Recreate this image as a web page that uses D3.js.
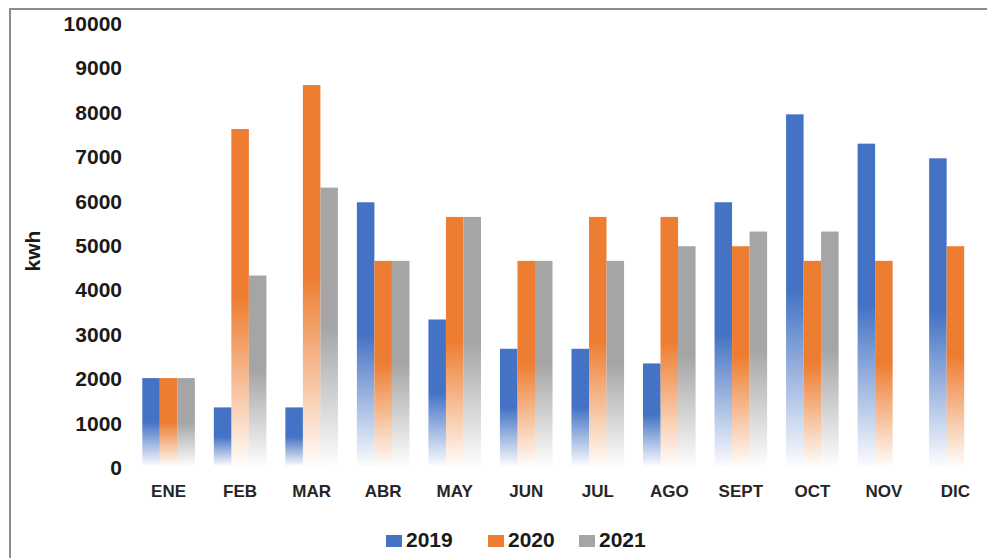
<!DOCTYPE html>
<html>
<head>
<meta charset="utf-8">
<script src="https://cdn.jsdelivr.net/npm/d3@7"></script>
<style>
  html, body { margin: 0; padding: 0; background: #fff; }
  svg { display: block; font-family: "Liberation Sans", Arial, sans-serif; }
</style>
</head>
<body>
<svg id="chart" width="987" height="558"></svg>
<script>
// Monthly energy use (kWh) per year
const months = ["ENE", "FEB", "MAR", "ABR", "MAY", "JUN", "JUL", "AGO", "SEPT", "OCT", "NOV", "DIC"];
const years = ["2019", "2020", "2021"];
const values2019 = [1980, 1320, 1320, 5940, 3300, 2640, 2640, 2310, 5940, 7920, 7260, 6930];
const values2020 = [1980, 7590, 8580, 4620, 5610, 4620, 5610, 5610, 4950, 4620, 4620, 4950];
const values2021 = [1980, 4290, 6270, 4620, 5610, 4620, 4620, 4950, 5280, 5280, null, null];
const yTicks = [0, 1000, 2000, 3000, 4000, 5000, 6000, 7000, 8000, 9000, 10000];
const colors = ["#4472C4", "#ED7D31", "#A5A5A5"];

const seriesValues = [values2019, values2020, values2021];

const svg = d3.select("#chart");

// chart frame
svg.append("rect")
  .attr("x", 10).attr("y", 9)
  .attr("width", 1000).attr("height", 600)
  .attr("fill", "none")
  .attr("stroke", "#8c8c8c")
  .attr("stroke-width", 2);

const x = d3.scaleBand().domain(months).range([133, 991]).paddingInner(0.265).paddingOuter(0.13);
const xs = d3.scaleBand().domain(years).range([0, x.bandwidth()]);
const y = d3.scaleLinear().domain([0, 10000]).range([466, 22]);

// gradient fills: solid on the upper half of each bar, fading to white at the base
const defs = svg.append("defs");
colors.forEach((c, i) => {
  const g = defs.append("linearGradient")
    .attr("id", "grad" + i)
    .attr("x1", 0).attr("y1", 0).attr("x2", 0).attr("y2", 1);
  g.append("stop").attr("offset", "0%").attr("stop-color", c).attr("stop-opacity", 1);
  g.append("stop").attr("offset", "50%").attr("stop-color", c).attr("stop-opacity", 1);
  g.append("stop").attr("offset", "78%").attr("stop-color", c).attr("stop-opacity", 0.45);
  g.append("stop").attr("offset", "100%").attr("stop-color", c).attr("stop-opacity", 0.02);
});

// bars
const groups = svg.append("g").selectAll("g")
  .data(months)
  .join("g")
  .attr("transform", d => `translate(${x(d)},0)`);

groups.selectAll("rect")
  .data((m, mi) => years.map((yr, si) => ({ yr, si, v: seriesValues[si][mi] })).filter(d => d.v != null))
  .join("rect")
  .attr("x", d => xs(d.yr))
  .attr("width", xs.bandwidth())
  .attr("y", d => y(d.v))
  .attr("height", d => y(0) - y(d.v))
  .attr("fill", d => `url(#grad${d.si})`);

// y axis labels
const yAxis = svg.append("g")
  .attr("transform", "translate(122,0)")
  .call(d3.axisLeft(y).tickValues(yTicks).tickSize(0).tickPadding(0).tickFormat(d3.format("d")));
yAxis.select(".domain").remove();
yAxis.selectAll("text")
  .attr("dy", "0.4em")
  .attr("fill", "#1a1a1a")
  .style("font-size", "21px")
  .style("font-weight", "bold")
  .style("font-family", "'Liberation Sans', Arial, sans-serif");

// x axis labels
const xAxis = svg.append("g")
  .attr("transform", "translate(0,480)")
  .call(d3.axisBottom(x).tickSize(0).tickPadding(0));
xAxis.select(".domain").remove();
xAxis.selectAll("text")
  .attr("dy", "0.71em")
  .attr("y", 5)
  .attr("fill", "#262626")
  .style("font-size", "17px")
  .style("font-weight", "bold")
  .style("font-family", "'Liberation Sans', Arial, sans-serif");

// axis title
svg.append("text")
  .attr("transform", "translate(40,251) rotate(-90)")
  .attr("text-anchor", "middle")
  .attr("fill", "#1a1a1a")
  .style("font-size", "21px")
  .style("font-weight", "bold")
  .text("kwh");

// legend
const legendX = [386, 488, 579];
const legend = svg.append("g").selectAll("g")
  .data(years)
  .join("g")
  .attr("transform", (d, i) => `translate(${legendX[i]},0)`);
legend.append("rect")
  .attr("x", 0).attr("y", 535)
  .attr("width", 16).attr("height", 12)
  .attr("fill", (d, i) => colors[i]);
legend.append("text")
  .attr("x", 20).attr("y", 547)
  .attr("fill", "#1a1a1a")
  .style("font-size", "21px")
  .style("font-weight", "bold")
  .text(d => d);
</script>
</body>
</html>
